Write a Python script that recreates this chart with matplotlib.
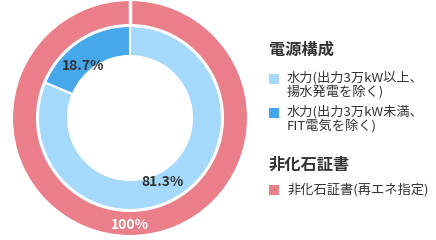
import matplotlib
matplotlib.use('Agg')
import matplotlib.pyplot as plt
from matplotlib.patches import Rectangle

plt.rcParams['font.family'] = ['Noto Sans CJK JP', 'DejaVu Sans']

# data
inner_labels = [['水力(出力3万kW以上、', '揚水発電を除く)'], ['水力(出力3万kW未満、', 'FIT電気を除く)']]
inner_values = [81.3, 18.7]
inner_colors = ['#a4d9fc', '#46a8ea']
outer_labels = ['非化石証書(再エネ指定)']
outer_values = [100]
outer_colors = ['#ea7f8a']
group_titles = ['電源構成', '非化石証書']

fig = plt.figure(figsize=(4.36, 2.4), dpi=100)
W, H = 436, 240

# pie axes: center at (130,118) px, radius ~118 px
ax = fig.add_axes([(130 - 120) / W, (240 - 118 - 120) / H, 240 / W, 240 / H])

R = 118 / 120.0
ax.pie(outer_values, radius=R, colors=outer_colors, startangle=90, counterclock=False,
       wedgeprops=dict(width=25 / 120.0, edgecolor='white', linewidth=1.5))
# gap line at top of outer ring
ax.plot([0, 0], [R - 26 / 120.0, R + 0.02], color='white', lw=2.5, solid_capstyle='butt')
ax.pie(inner_values, radius=92 / 120.0, colors=inner_colors, startangle=90, counterclock=False,
       wedgeprops=dict(width=30 / 120.0, edgecolor='white', linewidth=1.5))
ax.set_xlim(-1, 1)
ax.set_ylim(-1, 1)
ax.set_aspect('equal')
ax.axis('off')

def px(x, y):
    return ((x - 130) / 120.0, (118 - y) / 120.0)

ax.text(*px(83, 66), f'{inner_values[1]}%', ha='center', va='center', fontsize=10,
        fontweight='bold', color='#333333')
ax.text(*px(163, 182), f'{inner_values[0]}%', ha='center', va='center', fontsize=10,
        fontweight='bold', color='#333333')
ax.text(*px(130, 225), f'{outer_values[0]}%', ha='center', va='center', fontsize=10,
        fontweight='bold', color='white')

# legend drawn in figure pixel coords
def fy(y):
    return (H - y) / H

def fx(x):
    return x / W

def square(y_top, col):
    fig.patches.append(Rectangle((fx(269), fy(y_top + 10)), 10 / W, 10 / H,
                                 transform=fig.transFigure, facecolor=col, edgecolor='none'))

txt = '#333333'
fig.text(fx(269), fy(50), group_titles[0], fontsize=11.7, fontweight='bold', color=txt, va='center')
for y0, lines, col in [(74, inner_labels[0], inner_colors[0]), (108, inner_labels[1], inner_colors[1])]:
    square(y0, col)
    for k, line in enumerate(lines):
        fig.text(fx(287), fy(y0 + 4 + 14 * k), line, fontsize=9.5, color=txt, va='center')

fig.text(fx(269), fy(165), group_titles[1], fontsize=11.7, fontweight='bold', color=txt, va='center')
square(185, outer_colors[0])
fig.text(fx(287), fy(190), outer_labels[0], fontsize=9.5, color=txt, va='center')

fig.savefig('out.png', dpi=100)
